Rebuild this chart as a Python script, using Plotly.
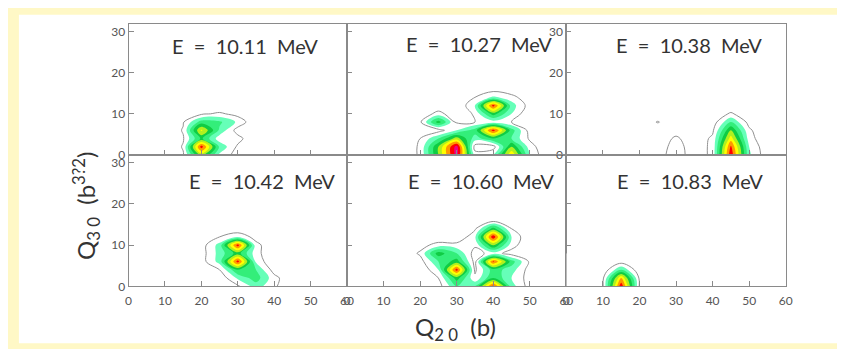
import plotly.graph_objects as go

# ---------------- data ----------------
Q20_TICKS = [0, 10, 20, 30, 40, 50, 60]
Q30_TICKS = [0, 10, 20, 30]
ENERGIES = ["10.11", "10.27", "10.38", "10.42", "10.60", "10.83"]

# panel 1 : E = 10.11 MeV
P1_X = [10, 15, 20, 25, 30, 35]
P1_Y = [0, 2, 4, 6, 8, 10, 12]
P1_Z = [
    [0, 0.09, 0.55, 0.18, 0.05, 0],
    [0, 0.11, 0.85, 0.28, 0.08, 0],
    [0, 0.09, 0.42, 0.14, 0.14, 0],
    [0, 0.11, 0.62, 0.28, 0.05, 0],
    [0, 0.09, 0.35, 0.32, 0.18, 0],
    [0, 0, 0.08, 0.12, 0.06, 0],
    [0, 0, 0, 0, 0, 0],
]

# panel 2 : E = 10.27 MeV
P2_X = [15, 20, 25, 30, 35, 40, 45, 50, 55]
P2_Y = [0, 2, 4, 6, 8, 10, 12, 14, 16, 18]
P2_Z = [
    [0, 0.12, 0.5, 0.95, 0.15, 0.2, 0.7, 0.2, 0],
    [0, 0.12, 0.5, 0.95, 0.05, 0.05, 0.5, 0.15, 0],
    [0, 0.1, 0.3, 0.55, 0.25, 0.4, 0.3, 0.08, 0],
    [0, 0.02, 0.05, 0.2, 0.35, 0.85, 0.35, 0.05, 0],
    [0, 0.08, 0.45, 0.08, 0.1, 0.15, 0.1, 0, 0],
    [0, 0, 0.15, 0, 0.12, 0.45, 0.2, 0, 0],
    [0, 0, 0, 0, 0.2, 0.85, 0.25, 0.05, 0],
    [0, 0, 0, 0, 0.1, 0.22, 0.15, 0, 0],
    [0, 0, 0, 0, 0, 0.05, 0, 0, 0],
    [0, 0, 0, 0, 0, 0, 0, 0, 0],
]

# panel 3 : E = 10.38 MeV
P3_X = [20, 25, 30, 35, 40, 45, 50, 55, 60]
P3_Y = [0, 2, 4, 6, 8, 10, 12]
P3_Z = [
    [0, 0.06, 0.15, 0.05, 0.12, 0.88, 0.22, 0.03, 0],
    [0, 0.05, 0.14, 0.05, 0.12, 0.82, 0.2, 0.02, 0],
    [0, 0.03, 0.12, 0.03, 0.12, 0.65, 0.15, 0, 0],
    [0, 0, 0.05, 0, 0.08, 0.5, 0.12, 0, 0],
    [0, 0.11, 0, 0, 0.04, 0.3, 0.06, 0, 0],
    [0, 0, 0, 0, 0, 0.12, 0, 0, 0],
    [0, 0, 0, 0, 0, 0, 0, 0, 0],
]

# panel 4 : E = 10.42 MeV
P4_X = [15, 20, 25, 30, 35, 40, 45]
P4_Y = [0, 2, 4, 6, 8, 10, 12, 14]
P4_Z = [
    [0, 0, 0, 0.08, 0.25, 0.12, 0],
    [0, 0, 0.02, 0.22, 0.35, 0.14, 0],
    [0, 0, 0.1, 0.4, 0.3, 0.05, 0],
    [0, 0.05, 0.24, 0.85, 0.18, 0, 0],
    [0, 0.05, 0.24, 0.45, 0.14, 0, 0],
    [0, 0.05, 0.24, 0.85, 0.14, 0, 0],
    [0, 0, 0.1, 0.2, 0.05, 0, 0],
    [0, 0, 0, 0, 0, 0, 0],
]

# panel 5 : E = 10.60 MeV
P5_X = [15, 20, 25, 30, 35, 40, 45, 50, 55]
P5_Y = [0, 2, 4, 6, 8, 10, 12, 14, 16, 18]
P5_Z = [
    [0, 0, 0.05, 0.3, 0.3, 0.85, 0.25, 0.05, 0],
    [0, 0, 0.1, 0.45, 0.12, 0.4, 0.2, 0.05, 0],
    [0, 0, 0.2, 0.85, 0.08, 0.35, 0.25, 0.05, 0],
    [0, 0.05, 0.3, 0.45, 0.06, 0.82, 0.35, 0.08, 0],
    [0, 0.12, 0.45, 0.3, 0.05, 0.15, 0.05, 0, 0],
    [0, 0.05, 0.15, 0.14, 0.12, 0.5, 0.15, 0, 0],
    [0, 0, 0, 0, 0.18, 0.88, 0.2, 0, 0],
    [0, 0, 0, 0, 0.08, 0.45, 0.1, 0, 0],
    [0, 0, 0, 0, 0, 0.05, 0, 0, 0],
    [0, 0, 0, 0, 0, 0, 0, 0, 0],
]

# panel 6 : E = 10.83 MeV
P6_X = [0, 5, 10, 15, 20, 25, 30]
P6_Y = [0, 2, 4, 6, 8]
P6_Z = [
    [0, 0, 0.09, 0.88, 0.09, 0, 0],
    [0, 0, 0.08, 0.7, 0.08, 0, 0],
    [0, 0, 0.02, 0.3, 0.02, 0, 0],
    [0, 0, 0, 0.05, 0, 0, 0],
    [0, 0, 0, 0, 0, 0, 0],
]

PANELS = [(P1_X, P1_Y, P1_Z), (P2_X, P2_Y, P2_Z), (P3_X, P3_Y, P3_Z),
          (P4_X, P4_Y, P4_Z), (P5_X, P5_Y, P5_Z), (P6_X, P6_Y, P6_Z)]

# ---------------- style ----------------
BAND_COLORS = ["#FFFFFF", "#FFFFFF", "#66FFB8", "#33EE7A", "#10CC44",
               "#B0F020", "#FFFF00", "#FF9900", "#FF0000", "#EE0088"]
W, H = 845, 349
COLS = [(119, 340), (340, 562), (562, 784)]
ROWS = [(16, 150), (150, 284)]
LABEL_RIGHT = [313, 550, 762, 330, 552, 763]
LABEL_Y = [39, 37, 38, 177, 177, 177]
FONT = "Lato, 'Open Sans', sans-serif"
AX = "#8a8a8a"

colorscale = [[k / 9, c] for k, c in enumerate(BAND_COLORS)]

fig = go.Figure()
layout = {}
annotations = []
for i, (px, py, pz) in enumerate(PANELS):
    r, c = divmod(i, 3)
    xa = "x" if i == 0 else f"x{i+1}"
    ya = "y" if i == 0 else f"y{i+1}"
    fig.add_trace(go.Contour(
        x=px, y=py, z=pz, xaxis=xa, yaxis=ya,
        autocontour=False,
        contours=dict(start=0.1, end=0.9, size=0.1, coloring="fill", showlines=False),
        colorscale=colorscale, showscale=False, line=dict(width=0),
        hoverinfo="skip"))
    fig.add_trace(go.Contour(
        x=px, y=py, z=pz, xaxis=xa, yaxis=ya,
        autocontour=False,
        contours=dict(start=0.1, end=0.1, size=0.1, coloring="none"),
        line=dict(color="#909090", width=1), showscale=False,
        hoverinfo="skip"))
    xk = "xaxis" if i == 0 else f"xaxis{i+1}"
    yk = "yaxis" if i == 0 else f"yaxis{i+1}"
    x0, x1 = COLS[c]
    y0, y1 = ROWS[r]
    layout[xk] = dict(
        domain=[x0 / W, x1 / W], range=[0, 60], anchor=ya,
        showline=True, mirror=True, linecolor=AX, linewidth=1,
        ticks="inside", ticklen=5, tickcolor=AX, tickvals=Q20_TICKS,
        showticklabels=(r == 1), showgrid=False, zeroline=False,
        tickfont=dict(family=FONT, size=12, color="#555"), ticklabelstandoff=3)
    layout[yk] = dict(
        domain=[1 - y1 / H, 1 - y0 / H], range=[0, 31.9], anchor=xa,
        showline=True, mirror=True, linecolor=AX, linewidth=1,
        ticks="inside", ticklen=5, tickcolor=AX, tickvals=Q30_TICKS,
        showticklabels=(c == 0) or (r == 0 and c == 2),
        showgrid=False, zeroline=False,
        tickfont=dict(family=FONT, size=12, color="#555"))
    annotations.append(dict(
        text=f"E  =  {ENERGIES[i]}  MeV", xref="paper", yref="paper",
        x=LABEL_RIGHT[i] / W, y=1 - LABEL_Y[i] / H, xanchor="right", yanchor="middle",
        showarrow=False, font=dict(family=FONT, size=20, color="#333")))

annotations.append(dict(
    text="Q<sub>3 0</sub>  (b<sup>3?2</sup>)", xref="paper", yref="paper",
    x=76 / W, y=1 - 202 / H, xanchor="center", yanchor="middle", textangle=-90,
    showarrow=False, font=dict(family=FONT, size=24, color="#333")))
annotations.append(dict(
    text="Q<sub>2 0</sub>  (b)", xref="paper", yref="paper",
    x=450 / W, y=1 - 327 / H, xanchor="center", yanchor="middle",
    showarrow=False, font=dict(family=FONT, size=24, color="#333")))

fig.update_layout(
    width=W, height=H, margin=dict(l=0, r=0, t=0, b=0),
    paper_bgcolor="#FFF8C6", plot_bgcolor="white",
    showlegend=False, annotations=annotations,
    shapes=[dict(type="rect", xref="paper", yref="paper",
                 x0=8 / W, x1=838 / W, y0=1 - 342 / H, y1=1 - 7 / H,
                 fillcolor="white", line=dict(width=0), layer="below")],
    **layout)

fig.write_html("out.html")
